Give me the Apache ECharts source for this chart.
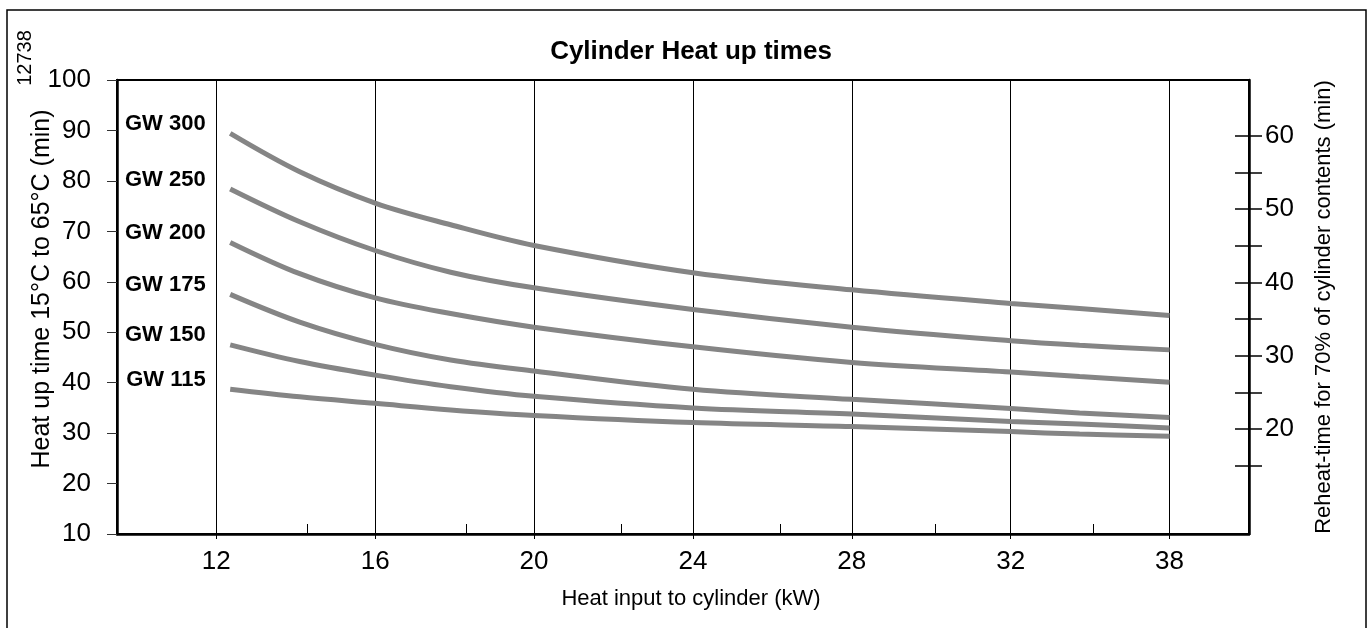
<!DOCTYPE html>
<html><head><meta charset="utf-8">
<script src="https://cdn.jsdelivr.net/npm/echarts@6/dist/echarts.min.js"></script>
<style>html,body{margin:0;padding:0;background:#fff}#c{width:1372px;height:628px}</style>
</head><body><div id="c"></div>
<script>
// ---- data ----
const xTicks = [12, 16, 20, 24, 28, 32, 38];           // heat input tick labels (kW)
const xMinorTicks = [14.3, 18.3, 22.2, 26.2, 30.1, 35.1];
const kw = [12.35, 14.1, 16, 17.9, 20, 24, 28, 32, 34.6, 38];
const seriesNames = ['GW 300', 'GW 250', 'GW 200', 'GW 175', 'GW 150', 'GW 115'];
const gw300 = [89.4, 81.8, 75.6, 71.3, 67.2, 61.8, 58.4, 55.7, 54.7, 53.3];
const gw250 = [78.4, 71.9, 66.2, 61.9, 58.8, 54.5, 51.0, 48.3, 47.4, 46.5];
const gw200 = [67.8, 61.6, 56.8, 53.7, 51.0, 47.1, 44.0, 42.1, 41.2, 40.1];
const gw175 = [57.5, 52.0, 47.6, 44.5, 42.3, 38.7, 36.7, 34.9, 34.0, 33.1];
const gw150 = [47.5, 44.2, 41.5, 39.2, 37.3, 35.0, 33.8, 32.3, 31.8, 31.0];
const gw115 = [38.7, 37.2, 35.9, 34.6, 33.5, 32.1, 31.3, 30.3, 29.8, 29.4];
const reheatTicks = [15, 20, 25, 30, 35, 40, 45, 50, 55, 60];
const reheatLabels = [20, 30, 40, 50, 60];
const xRange = [9.5, 41];
const reheatRange = [5.7, 67.6];

// the printed x axis spaces its labelled ticks evenly: position = tick index
function kwToPos(v) {
  const n = xTicks.length;
  for (let i = 0; i < n - 1; i++) {
    if (v <= xTicks[i + 1] || i === n - 2) return i + (v - xTicks[i]) / (xTicks[i + 1] - xTicks[i]);
  }
}
const allSeries = [gw300, gw250, gw200, gw175, gw150, gw115];

const font = "'Liberation Sans',Arial,sans-serif";
const lineColor = '#858585';

const series = allSeries.map((vals, si) => ({
  type: 'line',
  name: seriesNames[si],
  smooth: 0.35,
  showSymbol: true,
  showAllSymbol: true,
  symbol: 'circle',
  symbolSize: 1,
  itemStyle: { color: 'rgba(0,0,0,0)', borderWidth: 0 },
  lineStyle: { color: lineColor, width: 5 },
  labelLayout: { hideOverlap: false },
  xAxisIndex: 0, yAxisIndex: 0,
  data: vals.map((v, i) => ({
    value: [kwToPos(kw[i]), v],
    label: i === 0 ? {
      show: true, position: [-24, -9], align: 'right', verticalAlign: 'middle',
      formatter: seriesNames[si],
      fontFamily: font, fontWeight: 'bold', fontSize: 22, color: '#000'
    } : { show: false }
  }))
}));

const chart = echarts.init(document.getElementById('c'));
chart.setOption({
  animation: false,
  backgroundColor: '#fff',
  title: {
    text: 'Cylinder Heat up times', left: 686, top: 34, textAlign: 'center',
    textStyle: { fontFamily: font, fontWeight: 'bold', fontSize: 26, color: '#000' }
  },
  grid: { left: 117, right: 123, top: 80, bottom: 94, show: true, borderColor: '#000', borderWidth: 2,
          backgroundColor: 'transparent', outerBoundsMode: 'none', containLabel: false },
  xAxis: [{
    type: 'value', min: kwToPos(xRange[0]), max: kwToPos(xRange[1]),
    name: 'Heat input to cylinder (kW)', nameLocation: 'middle', nameGap: 54, nameMoveOverlap: false,
    nameTextStyle: { fontFamily: font, fontSize: 22, color: '#000', padding: [0, 0, 0, 16] },
    axisLine: { show: true, onZero: false, lineStyle: { color: '#000', width: 2.5 } },
    axisTick: { show: true, inside: false, length: 5, customValues: xTicks.map((t, i) => i), lineStyle: { color: '#000', width: 1 } },
    axisLabel: { customValues: xTicks.map((t, i) => i), formatter: v => String(xTicks[Math.round(v)]), margin: 15, fontFamily: font, fontSize: 26, color: '#000' },
    splitLine: { show: true, lineStyle: { color: '#000', width: 1 } }
  }, {
    type: 'value', min: kwToPos(xRange[0]), max: kwToPos(xRange[1]), position: 'bottom',
    axisLine: { show: false, onZero: false },
    axisTick: { show: true, inside: true, length: 10, customValues: xMinorTicks.map(kwToPos), lineStyle: { color: '#000', width: 1 } },
    axisLabel: { show: false }, splitLine: { show: false }
  }],
  yAxis: [{
    type: 'value', min: 10, max: 100, interval: 10, position: 'left',
    name: 'Heat up time 15°C to 65°C (min)', nameLocation: 'middle', nameGap: 62, nameRotate: 90, nameMoveOverlap: false,
    nameTextStyle: { fontFamily: font, fontSize: 25, color: '#000', padding: [0, 0, 0, 36] },
    axisLine: { show: true, onZero: false, lineStyle: { color: '#000', width: 2.5 } },
    axisTick: { show: true, inside: false, length: 10, lineStyle: { color: '#333', width: 1 } },
    axisLabel: { margin: 26, fontFamily: font, fontSize: 26, color: '#000' },
    splitLine: { show: false }
  }, {
    type: 'value', min: reheatRange[0], max: reheatRange[1], position: 'right',
    name: 'Reheat-time for 70% of cylinder contents (min)', nameLocation: 'middle', nameGap: 64, nameRotate: 90, nameMoveOverlap: false,
    nameTextStyle: { fontFamily: font, fontSize: 22, color: '#000' },
    axisLine: { show: true, onZero: false, lineStyle: { color: '#000', width: 2.5 } },
    axisTick: { show: true, inside: false, length: 13, customValues: reheatTicks, lineStyle: { color: '#000', width: 1.5 } },
    axisLabel: { customValues: reheatLabels, margin: 16, fontFamily: font, fontSize: 26, color: '#000' },
    splitLine: { show: false }
  }, {
    type: 'value', min: reheatRange[0], max: reheatRange[1], position: 'right',
    axisLine: { show: false, onZero: false },
    axisTick: { show: true, inside: true, length: 14, customValues: reheatTicks, lineStyle: { color: '#000', width: 1.5 } },
    axisLabel: { show: false }, splitLine: { show: false }
  }],
  graphic: [{
    type: 'rect', silent: true, z: 100,
    shape: { x: 7, y: 10, width: 1359, height: 660 },
    style: { fill: 'none', stroke: '#000', lineWidth: 1.5 }
  }, {
    type: 'text', silent: true, x: 25, y: 58, rotation: Math.PI / 2,
    style: { text: '12738', fontFamily: font, fontSize: 20, fill: '#000', textAlign: 'center', textVerticalAlign: 'middle' }
  }],
  series: series
});
</script></body></html>
